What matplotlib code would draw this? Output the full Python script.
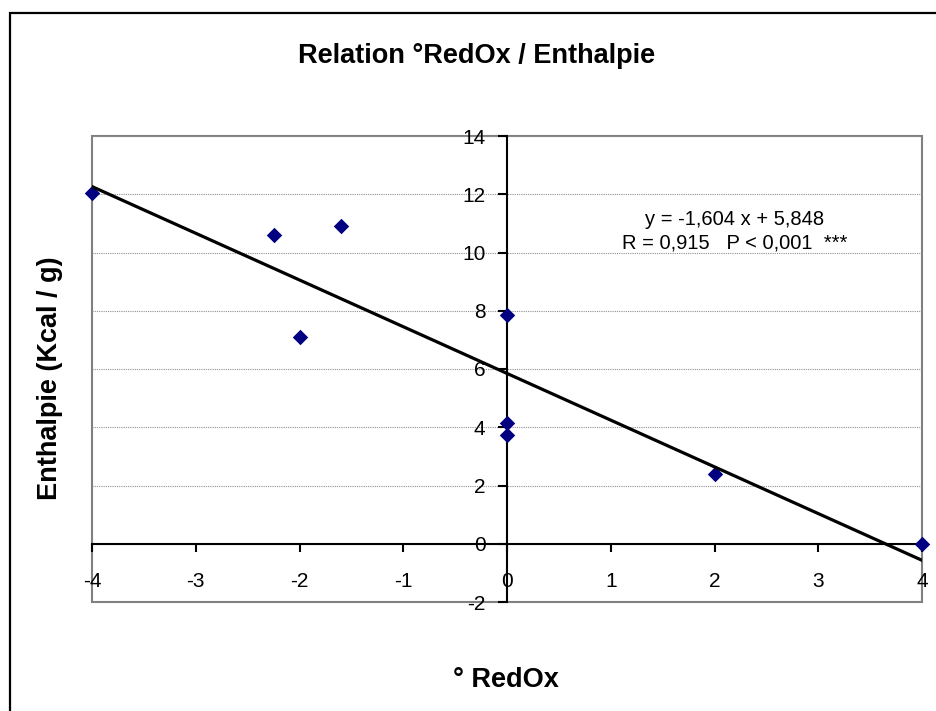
import matplotlib
matplotlib.use("Agg")
import matplotlib.pyplot as plt
from matplotlib.patches import Rectangle
import numpy as np

plt.rcParams['font.family'] = ['Liberation Sans', 'DejaVu Sans']

# Data
redox = [-4, -2.25, -1.6, -2, 0, 0, 0, 2, 4]
enthalpie = [12.05, 10.6, 10.9, 7.1, 7.85, 4.15, 3.75, 2.4, 0.0]
slope = -1.604
intercept = 5.848
x_ticks = [-4, -3, -2, -1, 0, 1, 2, 3, 4]
y_ticks = [-2, 0, 2, 4, 6, 8, 10, 12, 14]
title = "Relation °RedOx / Enthalpie"
xlabel = "° RedOx"
ylabel = "Enthalpie (Kcal / g)"
eq_text = "y = -1,604 x + 5,848\nR = 0,915   P < 0,001  ***"

W, H = 936, 711
fig = plt.figure(figsize=(W / 100, H / 100), dpi=100)
fig.patch.set_facecolor('white')

# outer chart border
fig.patches.append(Rectangle((10 / W, -0.1), 1.2, (H - 13) / H + 0.1,
                             transform=fig.transFigure, fill=False,
                             edgecolor='black', linewidth=1.6, zorder=0))

l, r, t, b = 92, 922, 136, 602
ax = fig.add_axes([l / W, 1 - b / H, (r - l) / W, (b - t) / H])
ax.set_xlim(-4, 4)
ax.set_ylim(-2, 14)

# plot area border gray
for s in ['top', 'right']:
    ax.spines[s].set_visible(False)
ax.patch.set_edgecolor('#808080')
ax.patch.set_linewidth(1.5)
ax.patch.set_facecolor('white')

ax.spines['left'].set_position(('data', 0))
ax.spines['bottom'].set_position(('data', 0))
ax.spines['left'].set_linewidth(1.5)
ax.spines['bottom'].set_linewidth(1.5)
ax.spines['left'].set_zorder(3)
ax.spines['bottom'].set_zorder(3)

ax.set_xticks(x_ticks)
ax.set_yticks(y_ticks)
ax.set_xticklabels([str(v) for v in x_ticks])
ax.set_yticklabels([str(v) for v in y_ticks])
ax.tick_params(axis='x', direction='out', length=6, width=1.5, labelsize=15, pad=14)
ax.tick_params(axis='y', direction='out', length=6.5, width=1.5, labelsize=15, pad=9)

ax.yaxis.grid(True, color='#909090', linestyle=(0, (1, 1)), linewidth=0.8)
ax.set_axisbelow(True)

ax.scatter(redox, enthalpie, marker='D', s=62, color='#000080', zorder=4,
           linewidths=0, clip_on=False)

xl = np.array([-4, 4])
ax.plot(xl, slope * xl + intercept, color='black', linewidth=2.3, zorder=5)

ax.text(2.19, 10.0, eq_text, fontsize=14.5, ha='center', va='bottom',
        linespacing=1.3, zorder=6)

fig.text(477 / W, 1 - 56 / H, title, fontsize=19.5, fontweight='bold',
         ha='center', va='center')
fig.text(506 / W, 1 - 680 / H, xlabel, fontsize=19.5, fontweight='bold',
         ha='center', va='center')
fig.text(50 / W, 1 - 378 / H, ylabel, fontsize=19.5, fontweight='bold',
         ha='center', va='center', rotation=90)

fig.savefig('out.png', dpi=100)
